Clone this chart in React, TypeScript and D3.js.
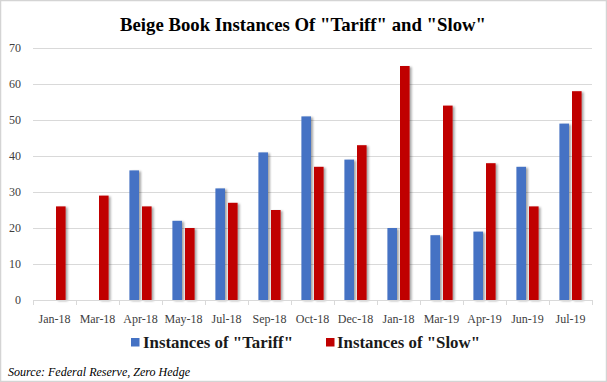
import React, { useEffect, useRef } from "react";
import * as d3 from "d3";

const categories = ["Jan-18", "Mar-18", "Apr-18", "May-18", "Jul-18", "Sep-18", "Oct-18", "Dec-18", "Jan-18", "Mar-19", "Apr-19", "Jun-19", "Jul-19"];
const tariff = [0, 0, 36, 22, 31, 41, 51, 39, 20, 18, 19, 37, 49];
const slow = [26, 29, 26, 20, 27, 25, 37, 43, 65, 54, 38, 26, 58];
const yTicks = [0, 10, 20, 30, 40, 50, 60, 70];
const seriesNames = ['Instances of "Tariff"', 'Instances of "Slow"'];
const colors = ["#4472C4", "#C00000"];
const title = 'Beige Book Instances Of "Tariff" and "Slow"';
const source = "Source: Federal Reserve, Zero Hedge";

const W = 607, H = 382;
const SERIF = "'Liberation Serif', 'DejaVu Serif', serif";

export default function App() {
  const ref = useRef<SVGSVGElement>(null);
  useEffect(() => {
    const svg = d3.select(ref.current);
    svg.selectAll("*").remove();
    const left = 33, right = 592, top = 48, bottom = 300;
    const x = d3.scaleBand<number>().domain(d3.range(categories.length)).range([left, right]).padding(0);
    const y = d3.scaleLinear().domain([0, 70]).range([bottom, top]);
    const bw = 9.6, gap = 3;

    const defs = svg.append("defs");
    const f = defs.append("filter").attr("id", "sh").attr("x", "-50%").attr("y", "-10%").attr("width", "200%").attr("height", "120%");
    f.append("feDropShadow").attr("dx", 2).attr("dy", 1).attr("stdDeviation", 1.2).attr("flood-color", "#000").attr("flood-opacity", 0.35);

    svg.append("rect").attr("x", 0.5).attr("y", 0.5).attr("width", W - 1).attr("height", H - 1).attr("fill", "#fff").attr("stroke", "#d4d4d4").attr("stroke-width", 1.5);

    svg.append("text").attr("x", 303).attr("y", 31).attr("text-anchor", "middle")
      .attr("font-family", SERIF).attr("font-weight", "bold").attr("font-size", 19).attr("fill", "#000")
      .attr("textLength", 366).attr("lengthAdjust", "spacingAndGlyphs").text(title);

    // gridlines
    svg.append("g").selectAll("line").data(yTicks.filter(t => t > 0)).join("line")
      .attr("x1", left).attr("x2", right).attr("y1", d => Math.round(y(d)) + 0.5).attr("y2", d => Math.round(y(d)) + 0.5)
      .attr("stroke", "#d9d9d9").attr("stroke-width", 1);

    svg.append("g").selectAll("text").data(yTicks).join("text")
      .attr("x", 21).attr("y", d => y(d) + 4).attr("text-anchor", "end")
      .attr("font-family", SERIF).attr("font-size", 12).attr("fill", "#404040").text(d => d);

    // bars
    const g = svg.append("g").attr("filter", "url(#sh)");
    categories.forEach((_, i) => {
      const c = x(i)! + x.bandwidth() / 2;
      const vals = [tariff[i], slow[i]];
      vals.forEach((v, s) => {
        if (v <= 0) return;
        const x0 = s === 0 ? c - gap / 2 - bw : c + gap / 2;
        g.append("rect").attr("x", x0).attr("y", y(v)).attr("width", bw).attr("height", y(0) - y(v)).attr("fill", colors[s]);
      });
    });

    // x axis
    svg.append("line").attr("x1", left).attr("x2", right).attr("y1", bottom + 0.5).attr("y2", bottom + 0.5).attr("stroke", "#d9d9d9");
    const bounds = d3.range(categories.length + 1).map(i => left + i * x.bandwidth());
    svg.append("g").selectAll("line").data(bounds).join("line")
      .attr("x1", d => Math.round(d) + 0.5).attr("x2", d => Math.round(d) + 0.5).attr("y1", bottom).attr("y2", bottom + 5)
      .attr("stroke", "#d9d9d9");
    svg.append("g").selectAll("text").data(categories).join("text")
      .attr("x", (_, i) => x(i)! + x.bandwidth() / 2).attr("y", 323).attr("text-anchor", "middle")
      .attr("font-family", SERIF).attr("font-size", 12).attr("fill", "#404040").text(d => d);

    // legend
    const leg = [{ sx: 131, tx: 143, tw: 150 }, { sx: 326, tx: 337, tw: 143 }];
    leg.forEach((l, s) => {
      svg.append("rect").attr("x", l.sx).attr("y", 338).attr("width", 8.5).attr("height", 8.5).attr("fill", colors[s]);
      svg.append("text").attr("x", l.tx).attr("y", 348).attr("font-family", SERIF).attr("font-size", 17)
        .attr("font-weight", "bold").attr("fill", "#1a1a1a")
        .attr("textLength", l.tw).attr("lengthAdjust", "spacingAndGlyphs").text(seriesNames[s]);
    });

    svg.append("text").attr("x", 8).attr("y", 376).attr("font-family", SERIF).attr("font-style", "italic")
      .attr("font-size", 13).attr("fill", "#000")
      .attr("textLength", 182).attr("lengthAdjust", "spacingAndGlyphs").text(source);
  }, []);
  return <svg ref={ref} width={W} height={H} style={{ position: "absolute", left: 0, top: 0 }} />;
}
